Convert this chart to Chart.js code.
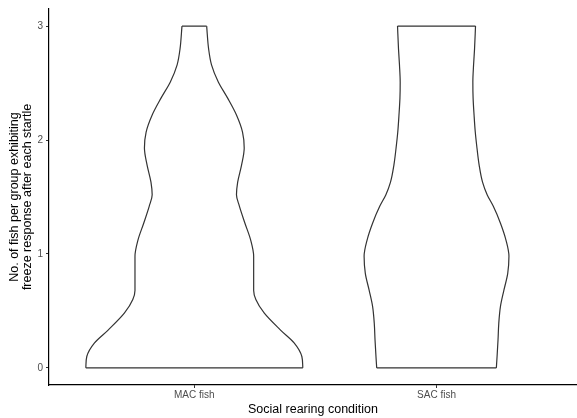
<!DOCTYPE html>
<html>
<head>
<meta charset="utf-8">
<script src="https://cdn.jsdelivr.net/npm/chart.js@4/dist/chart.umd.min.js"></script>
<style>
body{margin:0;background:#fff;}
</style>
</head>
<body>
<canvas id="violinChart" width="577" height="418"></canvas>
<script>
const categories = ["MAC fish","SAC fish"];

const yTicks = [0,1,2,3];

// violin outlines: response level and half width (in category units)
const macLevels = [0,0.10,0.22,0.33,0.48,0.60,0.68,0.83,0.98,1.12,1.27,1.42,1.52,1.63,1.78,1.93,2.07,2.22,2.37,2.51,2.66,2.80,3.0];
const macHalfWidth = [0.448,0.444,0.412,0.357,0.289,0.254,0.245,0.245,0.245,0.233,0.209,0.186,0.174,0.179,0.195,0.206,0.199,0.174,0.137,0.099,0.071,0.059,0.051];

const sacLevels = [0,0.10,0.25,0.39,0.54,0.68,0.83,0.98,1.12,1.27,1.42,1.52,1.63,1.78,1.93,2.07,2.22,2.37,2.51,2.66,2.80,3.0];
const sacHalfWidth = [0.247,0.250,0.254,0.257,0.264,0.278,0.294,0.299,0.287,0.264,0.234,0.209,0.190,0.176,0.167,0.160,0.155,0.151,0.150,0.153,0.157,0.161];

const groups = [
{levels:macLevels,widths:macHalfWidth},
{levels:sacLevels,widths:sacHalfWidth}
];

const lineColor = "#333333";

function violinDatasets(group,pos){

const left = group.levels.map((y,i)=>({x:pos-group.widths[i],y:y}));
const right = group.levels.map((y,i)=>({x:pos+group.widths[i],y:y}));
const n = group.levels.length-1;

// flat ends of the violin
const caps = [
left[0],right[0],
{x:pos,y:null},
left[n],right[n]
];

const base = {borderColor:lineColor,borderWidth:1.2,pointRadius:0,fill:false,showLine:true};

// sides are smoothed along the y axis
const side = {indexAxis:"y",cubicInterpolationMode:"monotone"};

return [
Object.assign({data:left},side,base),
Object.assign({data:right},side,base),
Object.assign({data:caps,tension:0,spanGaps:false},base)
];

}

let datasets = [];
groups.forEach((g,i)=>{
datasets = datasets.concat(violinDatasets(g,i+1));
});

const tickColor = "#4d4d4d";

new Chart(document.getElementById("violinChart"),{

type:"scatter",

data:{datasets:datasets},

options:{
responsive:false,
animation:false,
layout:{padding:{top:9,left:0,right:0,bottom:0}},
plugins:{legend:{display:false},tooltip:{enabled:false}},
scales:{
x:{
type:"linear",
min:0.4,
max:2.58,
afterBuildTicks:(s)=>{s.ticks=categories.map((c,i)=>({value:i+1}));},
afterFit:(s)=>{s.height=33;},
ticks:{
callback:(v)=>categories[v-1],
color:tickColor,
font:{family:"Liberation Sans, Arial, sans-serif",size:10},
padding:1,
maxRotation:0
},
grid:{drawOnChartArea:false,drawTicks:true,tickLength:3,color:lineColor},
border:{display:true,color:"#000",width:1.2},
title:{
display:true,
text:"Social rearing condition",
color:"#000",
font:{family:"Liberation Sans, Arial, sans-serif",size:12.5},
padding:{top:0,bottom:1}
}
},
y:{
type:"linear",
min:-0.15,
max:3.15,
afterBuildTicks:(s)=>{s.ticks=yTicks.map(v=>({value:v}));},
afterFit:(s)=>{s.width=49;},
ticks:{
color:tickColor,
font:{family:"Liberation Sans, Arial, sans-serif",size:10},
padding:3
},
grid:{drawOnChartArea:false,drawTicks:true,tickLength:3,color:lineColor},
border:{display:true,color:"#000",width:1.2},
title:{
display:true,
text:["No. of fish per group exhibiting","freeze response after each startle"],
color:"#000",
font:{family:"Liberation Sans, Arial, sans-serif",size:12.5,lineHeight:1.05},
padding:{top:8,bottom:0}
}
}
}
}

});
</script>
</body>
</html>
